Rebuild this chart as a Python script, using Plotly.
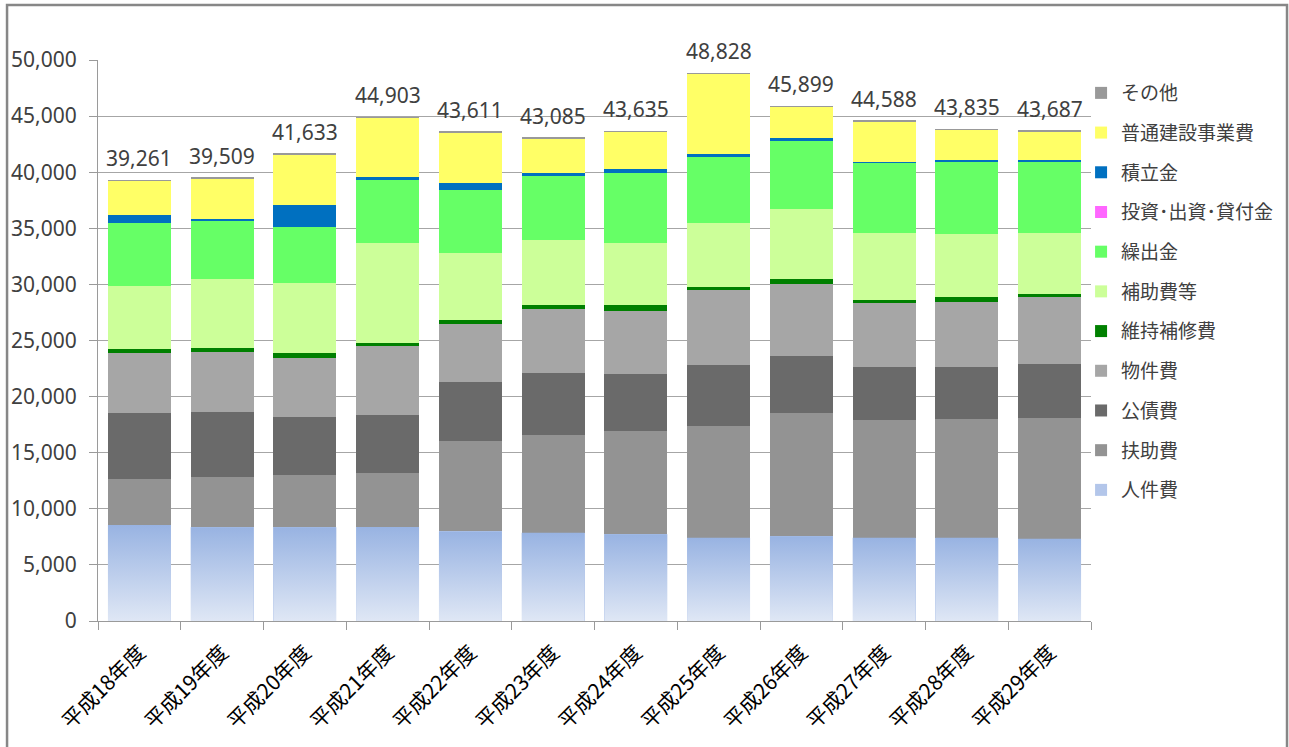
import plotly.graph_objects as go

years = ["平成18年度", "平成19年度", "平成20年度", "平成21年度", "平成22年度", "平成23年度",
         "平成24年度", "平成25年度", "平成26年度", "平成27年度", "平成28年度", "平成29年度"]

# 歳出（性質別）単位：百万円
jinkenhi     = [8560, 8350, 8350, 8385, 7980, 7855, 7730, 7425, 7560, 7425, 7425, 7325]
fujohi       = [4100, 4520, 4640, 4820, 8070, 8700, 9230, 9980, 10935, 10490, 10560, 10795]
kosaihi      = [5855, 5735, 5230, 5160, 5225, 5540, 5040, 5450, 5145, 4700, 4630, 4800]
bukkenhi     = [5350, 5350, 5260, 6135, 5225, 5725, 5630, 6610, 6435, 5755, 5825, 5960]
iji_hoshu    = [385, 385, 385, 280, 315, 315, 500, 270, 375, 270, 410, 305]
hojohi       = [5645, 6150, 6300, 8950, 5945, 5820, 5600, 5755, 6235, 5930, 5620, 5385]
kuridashi    = [5615, 5200, 4935, 5570, 5630, 5665, 6165, 5925, 6165, 6265, 6505, 6405]
toshi_kashi  = [0, 0, 0, 0, 0, 0, 0, 0, 0, 0, 0, 0]
tsumitate    = [715, 150, 2020, 280, 690, 280, 405, 170, 170, 70, 70, 70]
futsu_kensetsu = [3006, 3629, 4478, 5288, 4421, 3145, 3295, 7203, 2839, 3643, 2750, 2602]
sonota       = [30, 40, 35, 35, 110, 40, 40, 40, 40, 40, 40, 40]

# 積み上げ順（下から）
series = [
    ("人件費", jinkenhi, "#b3c6ea"),
    ("扶助費", fujohi, "#939393"),
    ("公債費", kosaihi, "#6a6a6a"),
    ("物件費", bukkenhi, "#a6a6a6"),
    ("維持補修費", iji_hoshu, "#008000"),
    ("補助費等", hojohi, "#ccff99"),
    ("繰出金", kuridashi, "#66ff66"),
    ("投資･出資･貸付金", toshi_kashi, "#ff66ff"),
    ("積立金", tsumitate, "#0070c0"),
    ("普通建設事業費", futsu_kensetsu, "#ffff66"),
    ("その他", sonota, "#999999"),
]

# 凡例の並び（上から）
legend_order = ["その他", "普通建設事業費", "積立金", "投資･出資･貸付金", "繰出金", "補助費等",
                "維持補修費", "物件費", "公債費", "扶助費", "人件費"]

totals = [sum(vals) for vals in zip(*[s[1] for s in series])]

BAR_W = 0.76
fig = go.Figure()

for name, vals, color in series:
    fig.add_trace(go.Bar(
        x=years, y=vals, name=name, legendgroup=name,
        legendrank=legend_order.index(name) + 1,
        marker=dict(color=color, line=dict(width=0)),
        width=BAR_W,
    ))

# 人件費の縦グラデーション（重ね描き用の数値軸）
for i, v in enumerate(jinkenhi):
    x0, x1 = i - BAR_W / 2, i + BAR_W / 2
    fig.add_trace(go.Scatter(
        x=[x0, x0, x1, x1, x0], y=[0, v, v, 0, 0],
        xaxis="x2", yaxis="y", mode="lines", line=dict(width=0),
        fill="toself",
        fillgradient=dict(type="vertical", start=0, stop=v,
                          colorscale=[[0, "#dfe7f5"], [1, "#98b3e2"]]),
        showlegend=False, hoverinfo="skip",
    ))

for yr, t in zip(years, totals):
    fig.add_annotation(
        x=yr, y=t, text=f"{t:,}", showarrow=False, yanchor="bottom", yshift=6,
        font=dict(family="Noto Sans, Noto Sans CJK JP", size=21, color="#404040"),
    )

# 外枠
fig.add_shape(type="rect", xref="paper", yref="paper",
              x0=-0.0916, x1=1.1974, y0=-0.4, y1=1.098,
              line=dict(color="#878787", width=2.5), fillcolor="rgba(0,0,0,0)")

fig.update_layout(
    width=1289, height=747,
    margin=dict(l=98, r=198, t=60, b=126, autoexpand=False),
    paper_bgcolor="white", plot_bgcolor="white",
    barmode="stack", bargap=0.24,
    font=dict(family="Noto Sans CJK JP", size=20, color="#404040"),
    showlegend=True,
    legend=dict(
        x=0.99, y=0.975, xanchor="left", yanchor="top",
        traceorder="grouped", tracegroupgap=12,
        font=dict(family="Noto Sans CJK JP", size=19, color="#404040"),
        itemwidth=30, bgcolor="rgba(0,0,0,0)",
    ),
    xaxis=dict(
        type="category", showgrid=False, tickangle=-45,
        ticks="outside", tickson="boundaries", ticklen=8, tickcolor="#9a9a9a",
        showline=True, linecolor="#9a9a9a", linewidth=1,
        tickfont=dict(family="Noto Sans CJK JP", size=21, color="#000000"),
        ticklabelstandoff=10,
    ),
    xaxis2=dict(overlaying="x", range=[-0.5, 11.5], visible=False),
    yaxis=dict(
        range=[0, 50000], dtick=5000, tickformat=",",
        showgrid=True, gridcolor="#a6a6a6", gridwidth=1,
        ticks="outside", ticklen=8, tickcolor="#9a9a9a",
        showline=True, linecolor="#9a9a9a", linewidth=1, zeroline=False,
        tickfont=dict(family="Noto Sans", size=21, color="#404040"),
        ticklabelstandoff=8,
    ),
)

fig.write_html("out.html")
